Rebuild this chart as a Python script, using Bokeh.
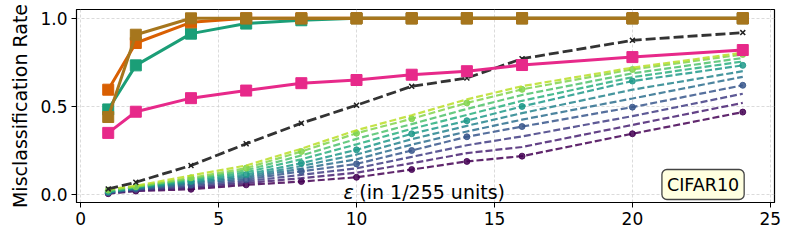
from bokeh.plotting import figure
from bokeh.models import Range1d, Label, FixedTicker
from bokeh.embed import file_html
from bokeh.resources import INLINE
from bokeh.palettes import Viridis256

eps = [1, 2, 4, 6, 8, 10, 12, 14, 16, 20, 24]

# solid lines (square markers)
teal_vals = [0.483, 0.733, 0.913, 0.97, 0.989, 1.0, 1.0, 1.0, 1.0, 1.0, 1.0]
orange_vals = [0.595, 0.86, 0.977, 1.0, 1.0, 1.0, 1.0, 1.0, 1.0, 1.0, 1.0]
brown_vals = [0.44, 0.907, 1.0, 1.0, 1.0, 1.0, 1.0, 1.0, 1.0, 1.0, 1.0]
pink_vals = [0.35, 0.47, 0.547, 0.59, 0.632, 0.65, 0.68, 0.70, 0.735, 0.78, 0.82]

# black dashed line (x markers)
black_vals = [0.032, 0.07, 0.165, 0.288, 0.405, 0.507, 0.614, 0.661, 0.771, 0.875, 0.919]

# dashed family (viridis), bottom to top
fam = [
    [0.005, 0.020, 0.030, 0.055, 0.074, 0.098, 0.142, 0.188, 0.218, 0.345, 0.468],
    [0.006, 0.023, 0.038, 0.065, 0.093, 0.124, 0.178, 0.235, 0.270, 0.395, 0.520],
    [0.008, 0.027, 0.046, 0.075, 0.112, 0.149, 0.214, 0.280, 0.330, 0.445, 0.572],
    [0.010, 0.030, 0.055, 0.085, 0.132, 0.174, 0.250, 0.328, 0.386, 0.496, 0.620],
    [0.012, 0.034, 0.062, 0.095, 0.147, 0.200, 0.283, 0.358, 0.425, 0.545, 0.668],
    [0.013, 0.037, 0.068, 0.104, 0.162, 0.227, 0.314, 0.390, 0.462, 0.595, 0.700],
    [0.015, 0.040, 0.075, 0.114, 0.178, 0.254, 0.345, 0.419, 0.500, 0.644, 0.733],
    [0.018, 0.042, 0.082, 0.126, 0.200, 0.285, 0.373, 0.452, 0.532, 0.666, 0.755],
    [0.021, 0.044, 0.088, 0.138, 0.222, 0.316, 0.400, 0.486, 0.565, 0.688, 0.775],
    [0.025, 0.045, 0.095, 0.150, 0.244, 0.348, 0.430, 0.520, 0.597, 0.710, 0.795],
    [0.030, 0.050, 0.108, 0.165, 0.260, 0.365, 0.450, 0.540, 0.615, 0.720, 0.805],
]
marked = [0, 3, 6, 9]

x_ticks = [0, 5, 10, 15, 20, 25]
y_ticks = [0.0, 0.5, 1.0]

FONT = "DejaVu Sans"

p = figure(width=785, height=233, output_backend="svg", toolbar_location=None,
           x_range=Range1d(-0.15, 25.15), y_range=Range1d(-0.045, 1.05))
p.min_border_left = 76
p.min_border_right = 11
p.min_border_top = 9
p.min_border_bottom = 31
p.outline_line_color = "black"
p.outline_line_width = 1.2
p.background_fill_color = "white"

p.xaxis.ticker = FixedTicker(ticks=x_ticks)
p.yaxis.ticker = FixedTicker(ticks=y_ticks)
p.yaxis.major_label_overrides = {0.0: "0.0", 0.5: "0.5", 1.0: "1.0"}
for ax in (p.xaxis, p.yaxis):
    ax.major_label_text_font = FONT
    ax.major_label_text_font_size = "17px"
    ax.major_label_text_color = "black"
    ax.minor_tick_line_color = None
    ax.major_tick_out = 5
    ax.major_tick_in = 0
    ax.major_tick_line_color = "black"
    ax.axis_line_color = "black"
    ax.major_label_standoff = 4
p.yaxis.axis_label = "Misclassification Rate"
p.yaxis.axis_label_text_font = FONT
p.yaxis.axis_label_text_font_size = "19px"
p.yaxis.axis_label_text_font_style = "normal"
p.yaxis.axis_label_text_color = "black"
p.yaxis.axis_label_standoff = 6

p.grid.grid_line_color = "#cccccc"
p.grid.grid_line_dash = "3 2"
p.grid.grid_line_alpha = 0.7
p.xgrid.ticker = FixedTicker(ticks=x_ticks)
p.ygrid.ticker = FixedTicker(ticks=y_ticks)

for i, vals in enumerate(fam):
    c = Viridis256[int(round(i * 0.09 * 255))]
    p.line(eps, vals, line_color=c, line_width=2.2, line_dash="7 3", line_alpha=0.85)
    if i in marked:
        p.scatter(eps, vals, marker="circle", size=6, fill_color=c, line_color=c,
                  alpha=0.85)

p.line(eps, black_vals, line_color="#333333", line_width=2.8, line_dash="10 4")
p.scatter(eps, black_vals, marker="x", size=7, line_color="#222222", line_width=1.5)

for vals, col in [(teal_vals, "#1b9e77"), (orange_vals, "#d95f02"),
                  (brown_vals, "#a6761d"), (pink_vals, "#e7298a")]:
    p.line(eps, vals, line_color=col, line_width=3)
    p.scatter(eps, vals, marker="square", size=11, fill_color=col, line_color=col)

p.add_layout(Label(x=9.53, y=0.017, text="ε", text_font=FONT, text_font_size="19px",
                   text_font_style="italic", text_baseline="alphabetic",
                   text_color="black"))
p.add_layout(Label(x=10.1, y=0.017, text="(in 1/255 units)", text_font=FONT,
                   text_font_size="19px", text_baseline="alphabetic", text_color="black"))
p.add_layout(Label(x=22.56, y=0.057, text="CIFAR10", text_font=FONT, text_font_size="17.5px",
                   text_align="center", text_baseline="middle", text_color="black",
                   background_fill_color="#ffffe0", border_line_color="#444444",
                   border_line_width=1.3, padding=5, border_radius=5))

open("out.html", "w").write(file_html(p, INLINE))
